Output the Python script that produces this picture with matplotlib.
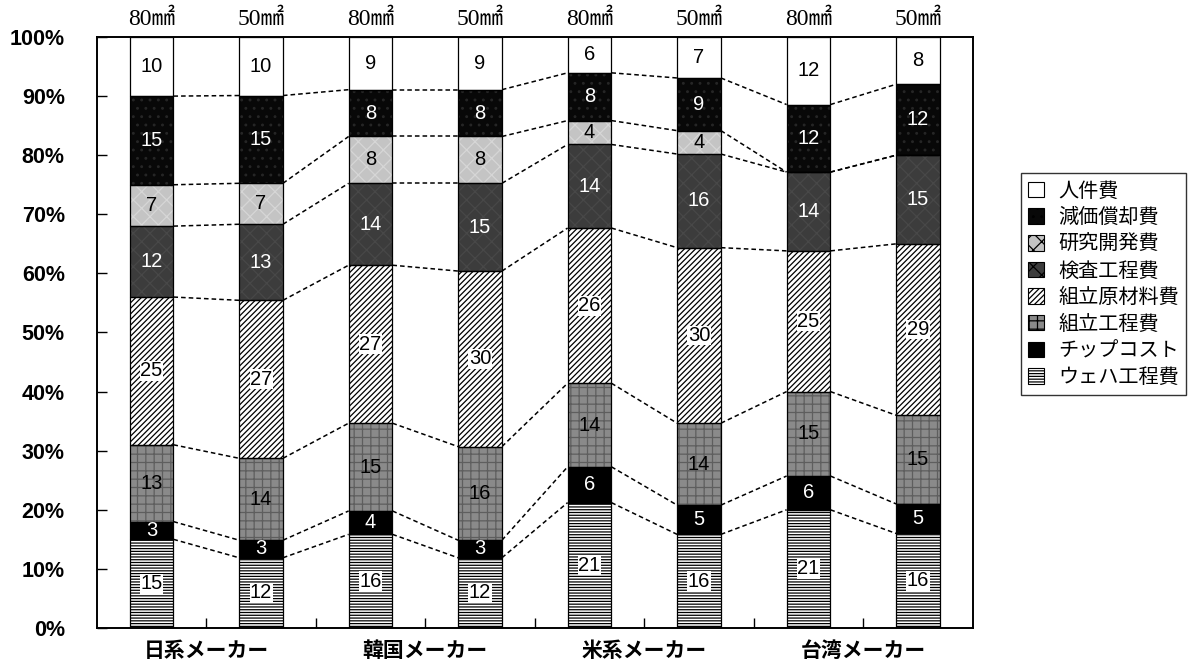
import numpy as np
import matplotlib.pyplot as plt
from matplotlib.patches import Patch

plt.rcParams['font.family'] = ['Liberation Sans', 'Noto Sans CJK JP', 'DejaVu Sans']
plt.rcParams['hatch.linewidth'] = 0.9

# 8 bars: 4 makers x (80mm2, 50mm2) chips
groups = ['日系メーカー', '韓国メーカー', '米系メーカー', '台湾メーカー']
sizes = ['80㎟', '50㎟', '80㎟', '50㎟', '80㎟', '50㎟', '80㎟', '50㎟']

# cost shares, bottom to top
wafer = [15, 12, 16, 12, 21, 16, 21, 16]
chip = [3, 3, 4, 3, 6, 5, 6, 5]
assembly = [13, 14, 15, 16, 14, 14, 15, 15]
material = [25, 27, 27, 30, 26, 30, 25, 29]
inspection = [12, 13, 14, 15, 14, 16, 14, 15]
rnd = [7, 7, 8, 8, 4, 4, 0, 0]
depreciation = [15, 15, 8, 8, 8, 9, 12, 12]
labor = [10, 10, 9, 9, 6, 7, 12, 8]

names = ['ウェハ工程費', 'チップコスト', '組立工程費', '組立原材料費',
         '検査工程費', '研究開発費', '減価償却費', '人件費']
series = [wafer, chip, assembly, material, inspection, rnd, depreciation, labor]

# (face, hatch, hatch colour, text colour, white box behind text)
styles = [
    ('white', '------', 'black', 'black', True),
    ('black', '', 'black', 'white', False),
    ('#8a8a8a', '++', '#5e5e5e', 'black', False),
    ('white', '//////', 'black', 'black', True),
    ('#3c3c3c', 'xx', '#484848', 'white', False),
    ('#c4c4c4', 'xx', '#d6d6d6', 'black', False),
    ('#080808', '..', '#262626', 'white', False),
    ('white', '', 'black', 'black', False),
]

vals = np.array(series, dtype=float)
pct = vals / vals.sum(axis=0) * 100
x = np.arange(len(sizes))
w = 0.4

fig = plt.figure(figsize=(11.95, 6.67), dpi=100)
ax = fig.add_axes([0.081, 0.0585, 0.733, 0.886])

bottom = np.zeros(len(x))
for k, (face, hatch, hc, tc, box) in enumerate(styles):
    h = pct[k]
    ax.bar(x, h, w, bottom=bottom, color=face, edgecolor=hc, hatch=hatch, linewidth=0, zorder=2)
    ax.bar(x, h, w, bottom=bottom, fill=False, edgecolor='black', linewidth=0.9, zorder=3)
    for i in range(len(x)):
        if vals[k, i] == 0:
            continue
        kw = {}
        if box:
            kw['bbox'] = dict(facecolor='white', edgecolor='none', pad=0.3)
        ax.text(x[i], bottom[i] + h[i] / 2, f'{int(vals[k, i])}', ha='center', va='center',
                fontsize=14.5, color=tc, zorder=4, **kw)
    bottom = bottom + h

# dashed links between neighbouring bars
cum = np.cumsum(pct, axis=0)[:-1]
for row in cum:
    for i in range(len(x) - 1):
        ax.plot([x[i] + w / 2, x[i + 1] - w / 2], [row[i], row[i + 1]], color='black',
                linestyle=(0, (3, 2)), linewidth=1.1, zorder=1)

for i, s in enumerate(sizes):
    ax.text(x[i], 103.0, s, ha='center', va='center', fontsize=17,
            family=['Liberation Serif', 'Noto Sans CJK JP'], clip_on=False)

ax.set_xlim(-0.5, 7.5)
ax.set_ylim(0, 100)
ax.set_yticks(np.arange(0, 101, 10))
ax.set_yticklabels([f'{v}%' for v in range(0, 101, 10)], fontsize=15.5, fontweight='bold')
ax.tick_params(axis='y', direction='in', length=7, width=1, pad=23)

ax.set_xticks([0.5, 2.5, 4.5, 6.5])
ax.set_xticklabels(groups, fontsize=15, fontweight='bold', family=['Noto Sans CJK JP'])
ax.set_xticks([1.5, 3.5, 5.5], minor=True)
ax.tick_params(axis='x', which='both', direction='in', length=7, width=1, pad=9)

for sp in ax.spines.values():
    sp.set_linewidth(1.4)

handles = []
for face, hatch, hc, tc, box in styles[::-1]:
    handles.append(Patch(facecolor=face, edgecolor='black', hatch=hatch, linewidth=0.8))
leg = fig.legend(handles, names[::-1], loc='upper left', bbox_to_anchor=(0.846, 0.755),
                 frameon=True, fancybox=False, edgecolor='black',
                 handlelength=0.8, handleheight=0.8, handletextpad=0.7,
                 labelspacing=0.28, borderpad=0.35,
                 prop={'family': ['Noto Sans CJK JP'], 'size': 14.5})
leg.get_frame().set_linewidth(1.0)

fig.savefig('out.png', dpi=100)
